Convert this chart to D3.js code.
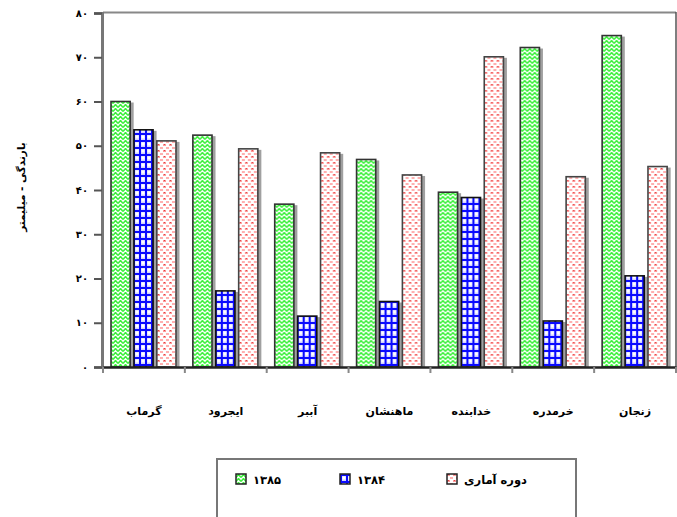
<!DOCTYPE html>
<html>
  <head>
    <meta charset="utf-8">
    <style>
    body { margin: 0; background: #fff; }
    text { font-family: "DejaVu Sans", sans-serif; font-weight: bold; fill: #000; }
    </style>
  </head>
  <body>

    <svg width="677" height="517"></svg>

    <script src="https://cdn.jsdelivr.net/npm/d3@7/dist/d3.min.js"></script>
    <script>

      // stations, left to right
      const stations = ['گرماب', 'ایجرود', 'آببر', 'ماهنشان', 'خدابنده', 'خرمدره', 'زنجان']
      const series = ['۱۳۸۵', '۱۳۸۴', 'دوره آماری']
      const v1385 = [60, 52.4, 36.8, 46.9, 39.5, 72.2, 74.9]
      const v1384 = [53.6, 17.2, 11.5, 14.8, 38.3, 10.4, 20.6]
      const vLong = [51.1, 49.3, 48.4, 43.4, 70.1, 43.0, 45.3]
      const yTickValues = [0, 10, 20, 30, 40, 50, 60, 70, 80]
      const yTickLabels = ['۰', '۱۰', '۲۰', '۳۰', '۴۰', '۵۰', '۶۰', '۷۰', '۸۰']
      const yTitle = 'بارندگی - میلیمتر'

      const data = stations.map((s, i) => ({
        station: s,
        values: [v1385[i], v1384[i], vLong[i]]
      }))

      const svg = d3.select('svg')
      const plotL = 103, plotR = 676, plotT = 13, plotB = 367

      const x0 = d3.scaleBand().domain(stations).range([plotL, plotR])
      const x1 = d3.scaleBand().domain(series).range([8, 74]).paddingInner(0.12)
      const y = d3.scaleLinear().domain([0, 80]).range([plotB, plotT])

      // fill patterns
      const defs = svg.append('defs')

      const pGreen = defs.append('pattern').attr('id', 'pGreen')
          .attr('patternUnits', 'userSpaceOnUse').attr('width', 5).attr('height', 4)
      pGreen.append('rect').attr('width', 5).attr('height', 4).attr('fill', '#fff')
      pGreen.append('path').attr('d', 'M0,3.5L2.5,0.5L5,3.5')
          .attr('fill', 'none').attr('stroke', '#3cf03c').attr('stroke-width', 1.5)

      const pBlue = defs.append('pattern').attr('id', 'pBlue')
          .attr('patternUnits', 'userSpaceOnUse').attr('width', 6).attr('height', 7)
      pBlue.append('rect').attr('width', 6).attr('height', 7).attr('fill', '#d4d4ff')
      pBlue.append('rect').attr('x', 2.5).attr('y', 2.5).attr('width', 3).attr('height', 3).attr('fill', '#fff')
      pBlue.append('rect').attr('x', 0).attr('y', 0).attr('width', 2).attr('height', 7).attr('fill', '#0a0aff')
      pBlue.append('rect').attr('x', 0).attr('y', 0).attr('width', 6).attr('height', 2).attr('fill', '#0a0aff')

      const pPink = defs.append('pattern').attr('id', 'pPink')
          .attr('patternUnits', 'userSpaceOnUse').attr('width', 6).attr('height', 6)
      pPink.append('rect').attr('width', 6).attr('height', 6).attr('fill', '#fff')
      pPink.append('rect').attr('x', 0).attr('y', 0).attr('width', 3).attr('height', 2).attr('fill', '#ff9a9a')
      pPink.append('rect').attr('x', 3).attr('y', 3).attr('width', 3).attr('height', 2).attr('fill', '#ffb0b0')
      pPink.append('rect').attr('x', 1).attr('y', 0).attr('width', 1).attr('height', 1).attr('fill', '#dd4444')

      const fills = ['url(#pGreen)', 'url(#pBlue)', 'url(#pPink)']
      const edges = ['#333', '#111', '#444']

      // frame: top and right lines
      svg.append('line').attr('x1', plotL).attr('x2', plotR).attr('y1', plotT - 0.5).attr('y2', plotT - 0.5)
          .attr('stroke', '#888').attr('stroke-width', 2)
      svg.append('line').attr('x1', plotR).attr('x2', plotR).attr('y1', plotT - 1).attr('y2', plotB)
          .attr('stroke', '#555').attr('stroke-width', 1.5)

      // bars
      const groups = svg.selectAll('.grp')
        .data(data)
        .enter().append('g')
          .attr('class', 'grp')
          .attr('transform', d => 'translate(' + x0(d.station) + ',0)')

      const bars = groups.selectAll('.bar')
        .data(d => d.values.map((v, i) => ({ key: series[i], value: v, i: i })))
        .enter()

      bars.append('rect')
          .attr('x', d => x1(d.key) + 2.5)
          .attr('y', d => y(d.value) + 1)
          .attr('width', x1.bandwidth())
          .attr('height', d => plotB - y(d.value) - 1)
          .attr('fill', '#a0a0a0')

      bars.append('rect')
          .attr('class', 'bar')
          .attr('x', d => x1(d.key))
          .attr('y', d => y(d.value))
          .attr('width', x1.bandwidth() - 1)
          .attr('height', d => plotB - y(d.value))
          .attr('fill', d => fills[d.i])
          .attr('stroke', d => edges[d.i])
          .attr('stroke-width', 1.6)

      // y axis
      const yAxis = svg.append('g')
          .attr('transform', 'translate(' + (plotL - 1) + ',0)')
          .call(d3.axisLeft(y).tickValues(yTickValues)
            .tickFormat((d, i) => yTickLabels[i]).tickSize(8).tickPadding(6))
      yAxis.select('.domain').attr('stroke', '#777').attr('stroke-width', 3)
      yAxis.selectAll('.tick line').attr('stroke', '#555').attr('stroke-width', 2)
      yAxis.selectAll('.tick text').attr('font-size', 10)
          .style('font-family', '"DejaVu Sans", sans-serif').style('font-weight', 'bold')

      // x axis
      const xAxis = svg.append('g')
          .attr('transform', 'translate(0,' + plotB + ')')
          .call(d3.axisBottom(x0).tickSize(0).tickPadding(40))
      xAxis.select('.domain').attr('stroke', '#222').attr('stroke-width', 2.5)
      xAxis.selectAll('.tick text').attr('font-size', 11)
          .style('font-family', '"DejaVu Sans", sans-serif').style('font-weight', 'bold')
      xAxis.selectAll('.sep')
        .data(stations.concat(['end']))
        .enter().append('line')
          .attr('class', 'sep')
          .attr('x1', (d, i) => i < stations.length ? x0(d) : plotR)
          .attr('x2', (d, i) => i < stations.length ? x0(d) : plotR)
          .attr('y1', 0).attr('y2', 6)
          .attr('stroke', '#888').attr('stroke-width', 2)

      // y title
      svg.append('text')
          .attr('transform', 'translate(25,187) rotate(-90)')
          .attr('text-anchor', 'middle')
          .attr('font-size', 10.5)
          .text(yTitle)

      // legend
      svg.append('rect')
          .attr('x', 217).attr('y', 459).attr('width', 359).attr('height', 80)
          .attr('fill', '#fff').attr('stroke', '#777').attr('stroke-width', 2)

      const legendX = [236, 340, 447]
      const lg = svg.selectAll('.lg')
        .data(series)
        .enter().append('g')
          .attr('class', 'lg')
          .attr('transform', (d, i) => 'translate(' + legendX[i] + ',474)')
      lg.append('rect')
          .attr('width', 10).attr('height', 10)
          .attr('fill', (d, i) => fills[i])
          .attr('stroke', '#222').attr('stroke-width', 1.5)
      lg.append('text')
          .attr('x', 17).attr('y', 10)
          .attr('font-size', 11.5)
          .text(d => d)

    </script>
  </body>
</html>
